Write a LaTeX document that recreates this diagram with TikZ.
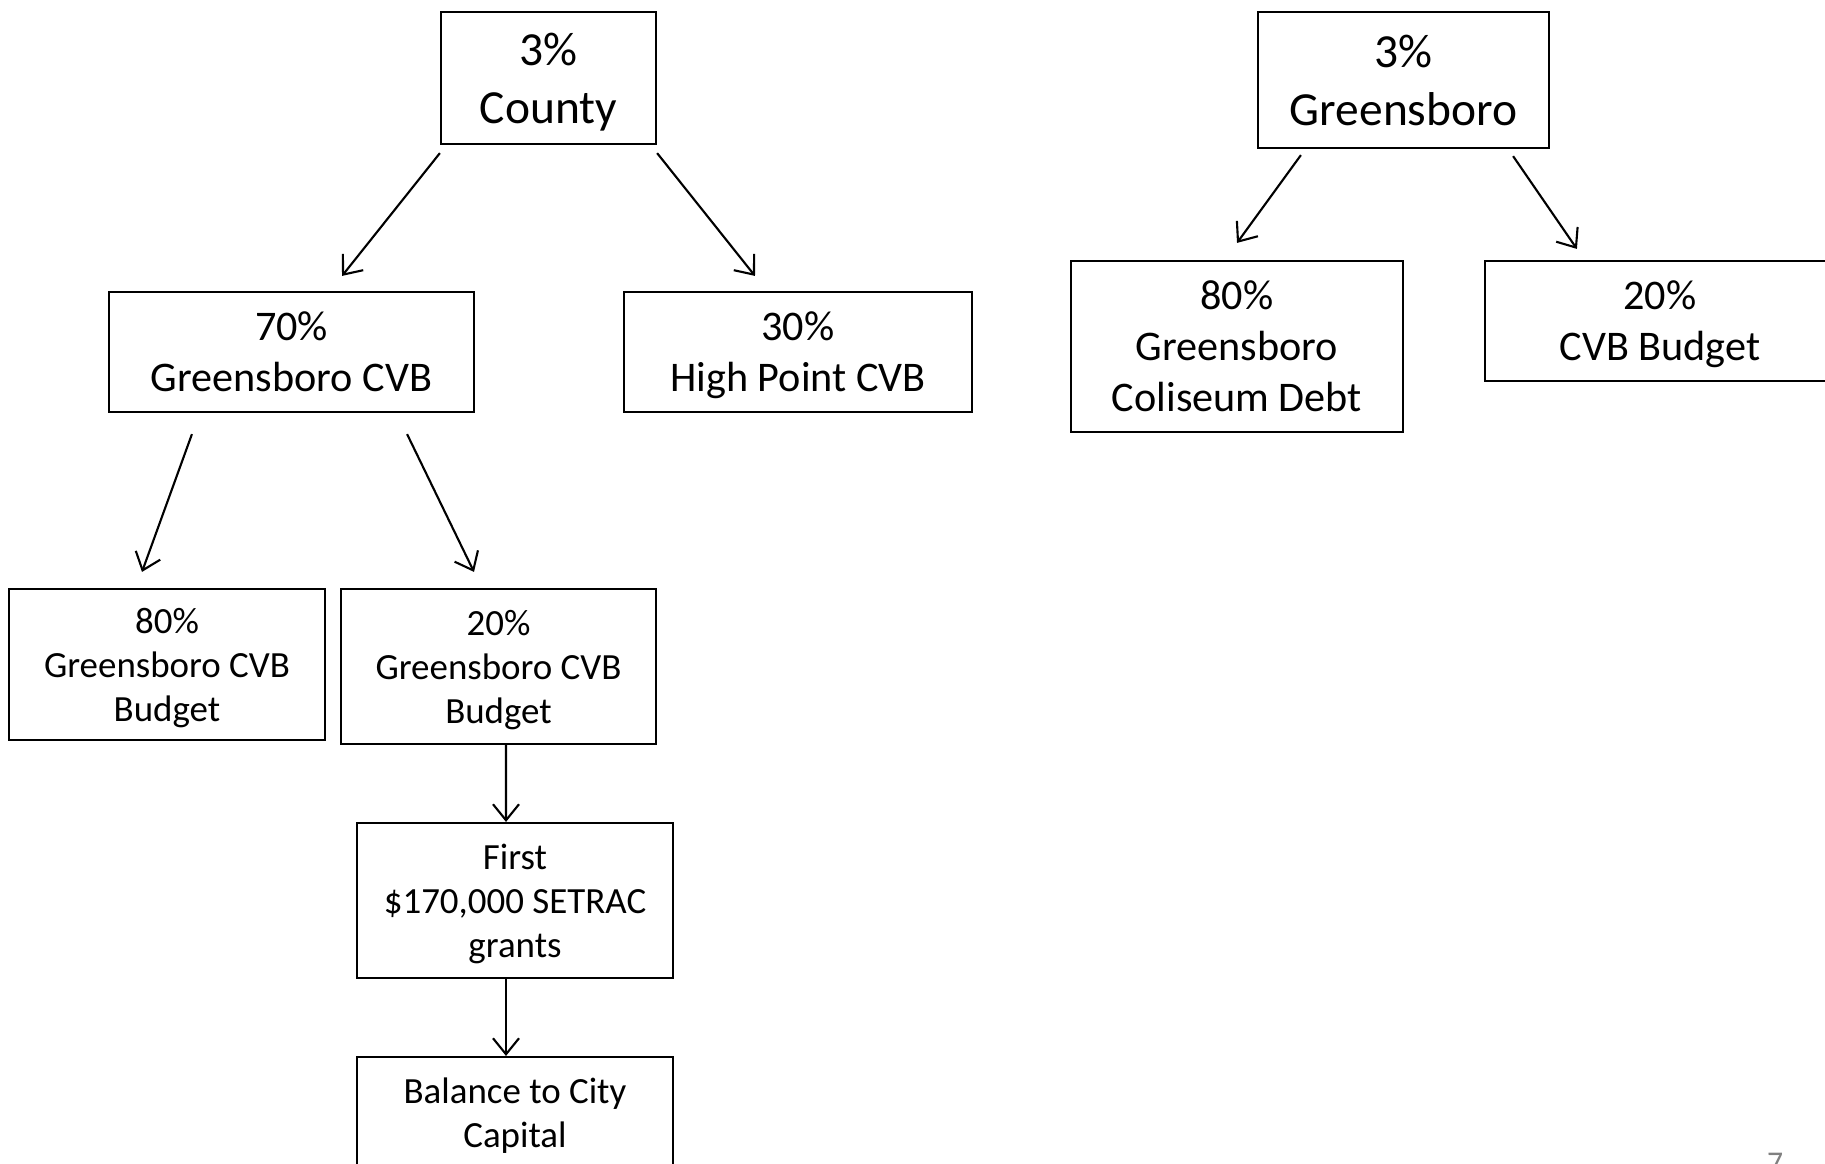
\documentclass[tikz,border=0pt]{standalone}
\usepackage{fontspec}
\setmainfont{Carlito}
\usetikzlibrary{arrows.meta}

% line struts, as a text box in slides pads its lines
\newcommand{\lineup}{\rule{0pt}{0.95em}}
\newcommand{\linedown}{\rule[-0.27em]{0pt}{0pt}}

\begin{document}
\begin{tikzpicture}[
    x=0.01cm, y=-0.01cm,
    >={Straight Barb[length=0.16cm,width=0.26cm]},
    box/.style={rectangle, draw, line width=0.6pt, align=center, inner sep=0pt},
    topbox/.style={box, font=\fontsize{13.5}{16.5}\selectfont},
    midbox/.style={box, font=\fontsize{12}{14.5}\selectfont},
    lowbox/.style={box, font=\fontsize{10.5}{12.5}\selectfont},
    flow/.style={->, line width=0.6pt}
]
\useasboundingbox (0,0) rectangle (1825,1163);

% County
\node[topbox, minimum width=2.15cm, minimum height=1.32cm] (county) at (548.5,78) {\lineup 3\%\\County\linedown};
\node[midbox, minimum width=3.65cm, minimum height=1.2cm] (gcvb) at (291.5,352) {\lineup 70\%\\Greensboro CVB\linedown};
\node[midbox, minimum width=3.48cm, minimum height=1.2cm] (hpcvb) at (798,352) {\lineup 30\%\\High Point CVB\linedown};
\node[lowbox, minimum width=3.16cm, minimum height=1.51cm] (gb80) at (167,664.5) {\lineup 80\%\\Greensboro CVB\\Budget\linedown};
\node[lowbox, minimum width=3.15cm, minimum height=1.55cm] (gb20) at (498.5,666.5) {\lineup 20\%\\Greensboro CVB\\Budget\linedown};
\node[lowbox, minimum width=3.16cm, minimum height=1.55cm] (setrac) at (515,900.5) {\lineup First\\\$170,000 SETRAC\\grants\linedown};
\node[lowbox, minimum width=3.16cm, minimum height=1.12cm] (balance) at (515,1113) {\lineup Balance to City\\Capital\linedown};

% Greensboro
\node[topbox, minimum width=2.91cm, minimum height=1.36cm] (gbtop) at (1403.5,80) {\lineup 3\%\\Greensboro\linedown};
\node[midbox, minimum width=3.32cm, minimum height=1.71cm] (coldebt) at (1237,346.5) {\lineup 80\%\\Greensboro\\Coliseum Debt\linedown};
\node[midbox, minimum width=3.5cm, minimum height=1.2cm] (cvbbud) at (1660,321) {\lineup 20\%\\CVB Budget\linedown};

% Arrows
\draw[flow] ([yshift=-0.08cm]county.south west) -- ([xshift=0.505cm,yshift=0.15cm]gcvb.north);
\draw[flow] ([yshift=-0.08cm]county.south east) -- ([xshift=-0.43cm,yshift=0.15cm]hpcvb.north);
\draw[flow] ([xshift=-0.995cm,yshift=-0.21cm]gcvb.south) -- ([xshift=-0.25cm,yshift=0.16cm]gb80.north);
\draw[flow] ([xshift=1.155cm,yshift=-0.21cm]gcvb.south) -- ([xshift=-0.245cm,yshift=0.16cm]gb20.north);
\draw[flow] ([xshift=0.075cm]gb20.south) -- ([xshift=-0.09cm]setrac.north);
\draw[flow] ([xshift=-0.09cm]setrac.south) -- ([xshift=-0.09cm]balance.north);
\draw[flow] ([xshift=0.44cm,yshift=-0.06cm]gbtop.south west) -- ([yshift=0.17cm]coldebt.north);
\draw[flow] ([xshift=1.095cm,yshift=-0.07cm]gbtop.south) -- ([xshift=0.93cm,yshift=0.11cm]cvbbud.north west);

% Page number
\node[text=gray, font=\fontsize{9}{11}\selectfont, anchor=north, inner sep=0pt] (pagenum) at (1775,1152) {7};

\end{tikzpicture}
\end{document}
